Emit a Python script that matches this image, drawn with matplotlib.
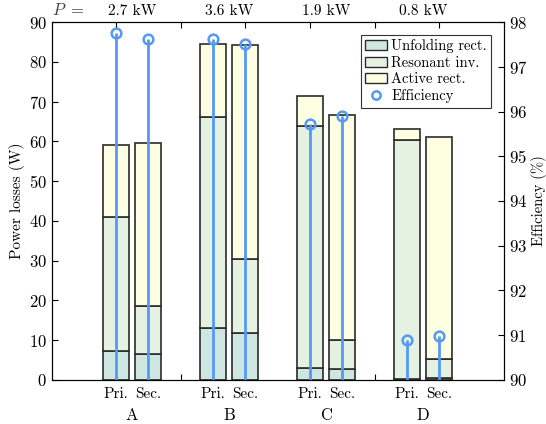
import numpy as np
import matplotlib.pyplot as plt
from matplotlib.patches import Patch
from matplotlib.lines import Line2D

plt.rcParams['font.family'] = 'serif'
plt.rcParams['font.serif'] = ['cmr10', 'DejaVu Serif']
plt.rcParams['mathtext.fontset'] = 'cm'
plt.rcParams['axes.formatter.use_mathtext'] = True
plt.rcParams['font.size'] = 10

# data
groups = ['A', 'B', 'C', 'D']
powers = ['2.7 kW', '3.6 kW', '1.9 kW', '0.8 kW']
sides = ['Pri.', 'Sec.']
# cumulative tops, order: A Pri, A Sec, B Pri, B Sec, ...
unfolding_top = np.array([7.3, 6.5, 13.0, 11.8, 3.0, 2.7, 0.3, 0.4])
resonant_top = np.array([41.0, 18.5, 66.2, 30.3, 63.9, 10.0, 60.3, 5.2])
total_top = np.array([59.2, 59.6, 84.5, 84.1, 71.4, 66.5, 63.2, 61.0])
efficiency = np.array([97.75, 97.62, 97.63, 97.51, 95.72, 95.9, 90.89, 90.98])

unfolding = unfolding_top
resonant = resonant_top - unfolding_top
active = total_top - resonant_top

c_unf = '#cde6df'
c_res = '#e5f1e1'
c_act = '#fefee2'
c_eff = '#5599f5'
edge = '#2b2b2b'

fig = plt.figure(figsize=(5.46, 4.24), dpi=100)
ax = fig.add_axes([0.0952, 0.1038, 0.8278, 0.8443])

centers = np.arange(1, len(groups) + 1)
off = 0.165
x = np.ravel(np.column_stack([centers - off, centers + off]))
w = 0.27

ax.bar(x, unfolding, w, color=c_unf, edgecolor=edge, linewidth=1.2, zorder=2)
ax.bar(x, resonant, w, bottom=unfolding, color=c_res, edgecolor=edge, linewidth=1.2, zorder=2)
ax.bar(x, active, w, bottom=resonant_top, color=c_act, edgecolor=edge, linewidth=1.2, zorder=2)

ax.set_xlim(0.175, 4.835)
ax.set_ylim(0, 90)
ax.set_yticks(np.arange(0, 91, 10))
ax.set_ylabel('Power losses (W)', fontsize=11, labelpad=3)
tick_pos = 0.835 + np.arange(6) * 2 / 3
ax.set_xticks(tick_pos)
ax.set_xticklabels([])
ax.tick_params(axis='both', direction='in', top=True, length=4, labelsize=12)
ax.tick_params(axis='x', pad=2)

ax2 = ax.twinx()
ax2.set_ylim(90, 98)
ax2.set_yticks(np.arange(90, 99, 1))
ax2.tick_params(axis='y', direction='in', length=4, labelsize=12)
ax2.set_ylabel('Efficiency (%)', fontsize=10.5, labelpad=3)
ax2.vlines(x, 90, efficiency, color=c_eff, linewidth=2)
ax2.plot(x, efficiency, 'o', ms=7, mfc='none', mec=c_eff, mew=1.8, clip_on=False)

tr = ax.get_xaxis_transform()
for xi, s in zip(x, sides * len(groups)):
    ax.text(xi, -0.02, s, transform=tr, ha='center', va='top', fontsize=11)
for ci, g, p in zip(centers, groups, powers):
    ax.text(ci, -0.078, g, transform=tr, ha='center', va='top', fontsize=12)
    ax.text(ci, 1.012, p, transform=tr, ha='center', va='bottom', fontsize=11)
ax.text(0.34, 1.012, r'$P\ =$', transform=tr, ha='center', va='bottom', color='#444444', fontsize=12)

handles = [
    Patch(facecolor=c_unf, edgecolor=edge, label='Unfolding rect.'),
    Patch(facecolor=c_res, edgecolor=edge, label='Resonant inv.'),
    Patch(facecolor=c_act, edgecolor=edge, label='Active rect.'),
    Line2D([], [], marker='o', ls='none', mfc='none', mec=c_eff, mew=1.8, ms=6, label='Efficiency'),
]
leg = ax2.legend(handles=handles, loc='upper right', bbox_to_anchor=(0.972, 0.965),
                 fancybox=False, edgecolor='#333333', framealpha=1, fontsize=10.5,
                 handlelength=1.5, handletextpad=0.3, borderpad=0.3, labelspacing=0.2,
                 borderaxespad=0)
leg.get_frame().set_linewidth(0.8)

fig.savefig('out.png', dpi=100)
